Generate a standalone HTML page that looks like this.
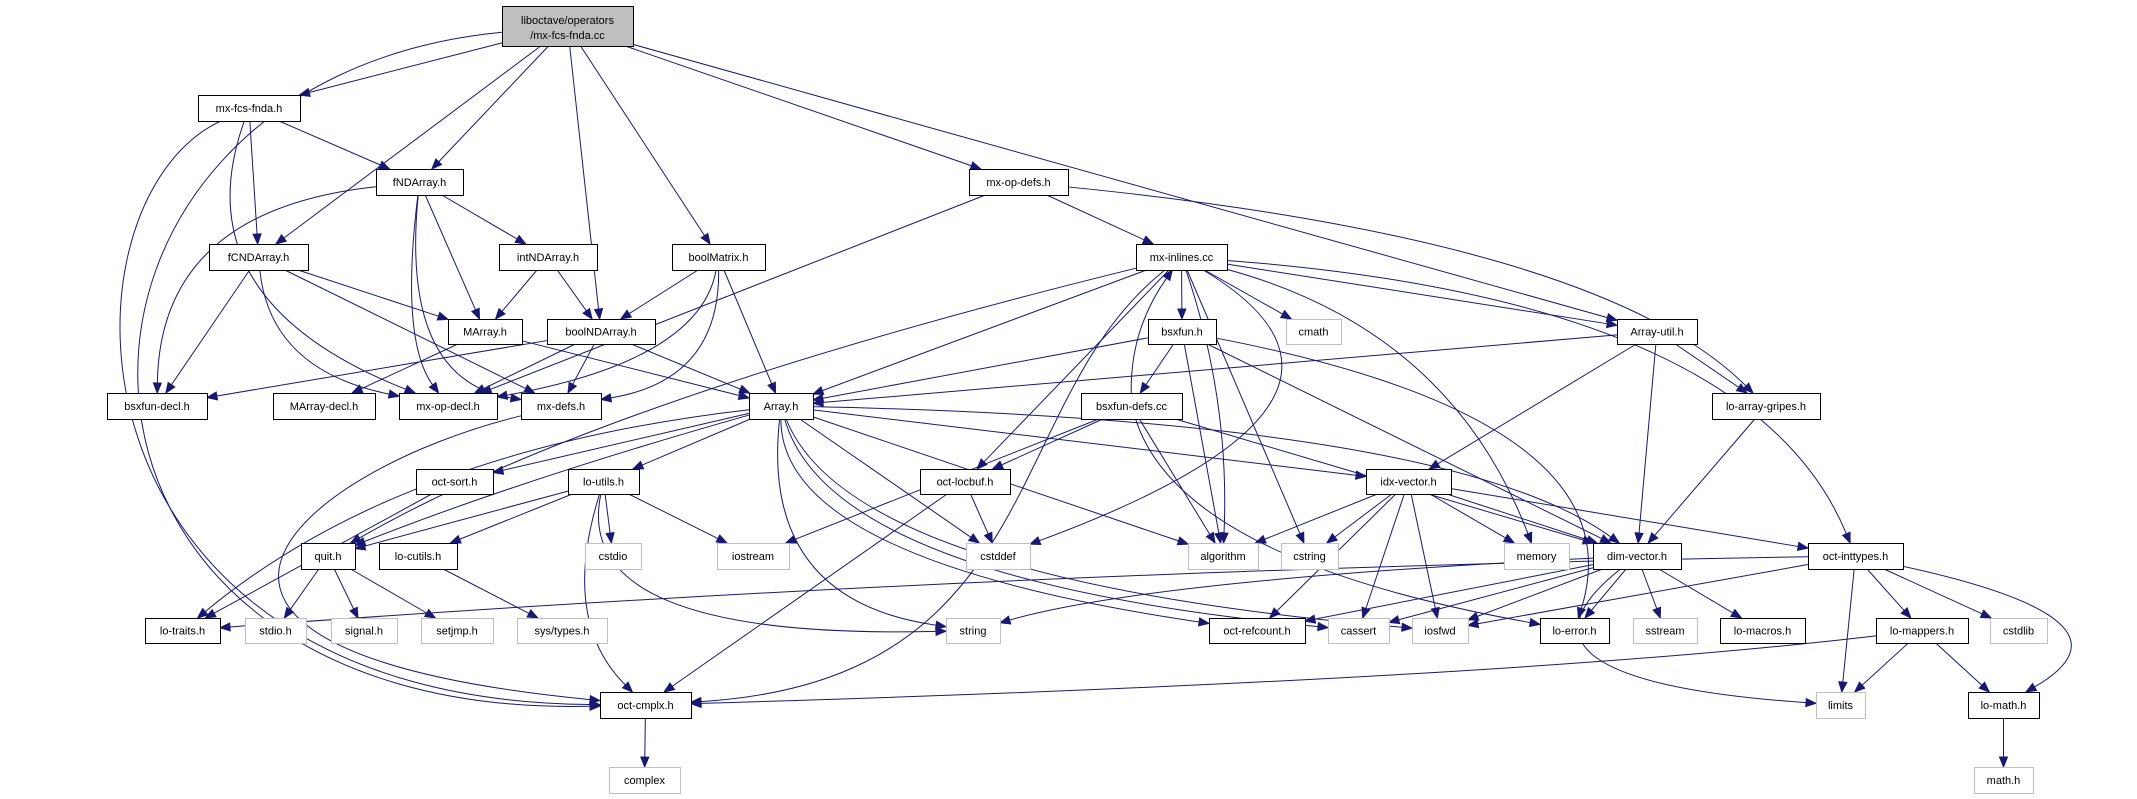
<!DOCTYPE html>
<html><head><meta charset="utf-8">
<style>
html,body{margin:0;padding:0;background:#fff;}
svg{display:block;}
text{font-family:"Liberation Sans",sans-serif;font-size:11px;fill:#000;}
</style></head>
<body>
<svg id="g" width="2137" height="799" xmlns="http://www.w3.org/2000/svg"></svg>
<script>
const N={
top:[502,6,633,46,"liboctave/operators|/mx-fcs-fnda.cc",2],
mfh:[198,95,300,121,"mx-fcs-fnda.h"],
fnd:[376,169,463,195,"fNDArray.h"],
mod:[969,169,1068,195,"mx-op-defs.h"],
fcn:[209,244,308,270,"fCNDArray.h"],
ind:[499,244,597,270,"intNDArray.h"],
bm:[672,244,765,270,"boolMatrix.h"],
mil:[1136,244,1227,270,"mx-inlines.cc"],
ma:[448,319,522,344,"MArray.h"],
bnd:[547,319,655,344,"boolNDArray.h"],
bsx:[1148,319,1216,344,"bsxfun.h"],
cmath:[1286,319,1341,344,"cmath",1],
au:[1617,319,1697,344,"Array-util.h"],
bdecl:[107,393,207,419,"bsxfun-decl.h"],
madecl:[273,393,375,419,"MArray-decl.h"],
mopdecl:[399,393,497,419,"mx-op-decl.h"],
mdefs:[521,393,601,419,"mx-defs.h"],
arr:[749,393,813,419,"Array.h"],
bdefs:[1081,393,1182,419,"bsxfun-defs.cc"],
lag:[1712,393,1820,419,"lo-array-gripes.h"],
osort:[416,469,493,494,"oct-sort.h"],
lut:[568,469,639,494,"lo-utils.h"],
olb:[920,469,1010,494,"oct-locbuf.h"],
idx:[1366,469,1451,494,"idx-vector.h"],
quit:[301,543,355,569,"quit.h"],
lcu:[379,543,457,569,"lo-cutils.h"],
cstdio:[585,543,641,569,"cstdio",1],
iost:[717,543,789,569,"iostream",1],
cstddef:[966,543,1030,569,"cstddef",1],
algo:[1188,543,1258,569,"algorithm",1],
cstring:[1281,543,1338,569,"cstring",1],
memory:[1504,543,1569,569,"memory",1],
dim:[1593,543,1681,569,"dim-vector.h"],
oit:[1808,543,1903,569,"oct-inttypes.h"],
ltr:[145,618,220,643,"lo-traits.h"],
stdio:[245,618,306,643,"stdio.h",1],
signal:[331,618,397,643,"signal.h",1],
setjmp:[421,618,493,643,"setjmp.h",1],
systypes:[517,618,607,643,"sys/types.h",1],
string:[946,618,1000,643,"string",1],
orc:[1209,618,1305,643,"oct-refcount.h"],
cassert:[1328,618,1389,643,"cassert",1],
iosfwd:[1412,618,1468,643,"iosfwd",1],
lerr:[1540,618,1609,643,"lo-error.h"],
sstream:[1633,618,1697,643,"sstream",1],
lmac:[1720,618,1805,643,"lo-macros.h"],
lmap:[1876,618,1968,643,"lo-mappers.h"],
cstdlib:[1990,618,2047,643,"cstdlib",1],
occ:[600,692,691,718,"oct-cmplx.h"],
limits:[1816,692,1865,718,"limits",1],
lmath:[1968,692,2039,718,"lo-math.h"],
complex:[609,767,680,793,"complex",1],
mathh:[1974,767,2033,793,"math.h",1]
};
const E=[
["top","mfh"],["top","fnd"],["top","fcn"],["top","bnd"],["top","bm"],["top","mod"],["top","au"],
["top","occ",[5,80],[0,720]],
["mfh","fnd"],["mfh","fcn"],["mfh","mopdecl",[180,300]],["mfh","occ",[50,200],[50,700]],
["fnd","ind"],["fnd","ma"],["fnd","mopdecl",[400,340]],["fnd","mdefs",[400,380]],["fnd","bdecl",[160,210]],
["fcn","ma"],["fcn","mopdecl",[270,370]],["fcn","mdefs"],["fcn","bdecl"],
["ind","ma"],["ind","bnd"],
["bm","bnd"],["bm","arr"],["bm","mopdecl",[700,360]],["bm","mdefs",[720,380]],
["ma","arr"],["ma","madecl"],
["bnd","mopdecl"],["bnd","mdefs"],["bnd","bdecl"],["bnd","arr"],
["mod","mil"],["mod","mopdecl"],["mod","lag",[1600,240]],
["mil","bsx"],["mil","cmath"],["mil","au"],["mil","oit",[1750,300]],["mil","arr"],["mil","quit",[600,400]],
["mil","olb"],["mil","cstddef",[1420,400]],["mil","cstring"],["mil","memory",[1450,330]],["mil","algo",[1230,400]],
["mil","occ",[1000,400],[1050,680]],
["bsx","bdefs"],["bsx","arr"],["bsx","dim"],["bsx","lerr",[1640,420]],["bsx","algo"],
["bdefs","mil",[1130,330]],["bdefs","olb"],["bdefs","dim"],["bdefs","algo"],["bdefs","iost"],["bdefs","lerr",[1180,560]],
["au","arr"],["au","dim"],["au","idx"],["au","lag"],
["lag","dim"],
["arr","osort"],["arr","lut"],["arr","quit",[520,480]],["arr","idx"],["arr","dim",[1450,420]],["arr","ltr",[400,450]],
["arr","orc",[780,560]],["arr","cassert",[830,580]],["arr","cstddef"],["arr","algo"],["arr","string",[760,600]],["arr","iosfwd",[850,580]],
["mdefs","occ",[300,470],[80,650]],
["osort","ltr"],
["lut","quit"],["lut","lcu"],["lut","cstdio"],["lut","iost"],["lut","string",[570,640]],["lut","occ",[560,620]],
["quit","stdio"],["quit","signal"],["quit","setjmp"],
["lcu","systypes"],
["olb","cstddef"],["olb","occ"],
["occ","complex"],
["idx","algo"],["idx","cstring"],["idx","memory"],["idx","dim"],["idx","oit"],["idx","orc"],["idx","cassert"],["idx","iosfwd"],
["dim","orc"],["dim","cassert"],["dim","iosfwd"],["dim","lerr"],["dim","sstream"],["dim","lmac"],["dim","limits",[1480,680]],["dim","string",[1150,580]],
["oit","ltr",[1000,570]],["oit","iosfwd"],["oit","limits"],["oit","lmap"],["oit","cstdlib"],["oit","lmath",[2150,620]],
["lmap","occ",[1500,680]],["lmap","limits"],["lmap","lmath"],
["lmath","mathh"]
];
const C="#191970";
let s="";
function ctr(n){const b=N[n];return[(b[0]+b[2])/2,(b[1]+b[3])/2];}
function clip(n,p,q){
 const b=N[n];let [cx,cy]=p;let dx=q[0]-cx,dy=q[1]-cy;
 let hw=(b[2]-b[0])/2,hh=(b[3]-b[1])/2;
 let t=Math.min(dx?hw/Math.abs(dx):1e9,dy?hh/Math.abs(dy):1e9);
 return[cx+dx*t,cy+dy*t];}
for(const e of E){
 const a=ctr(e[0]),b=ctr(e[1]);
 let c1=e[2],c2=e[3];
 let s0=clip(e[0],a,c1||b);
 let last=c2||c1||a;
 let e0=clip(e[1],b,last);
 let dx=e0[0]-last[0],dy=e0[1]-last[1],L=Math.hypot(dx,dy)||1;dx/=L;dy/=L;
 let bx=e0[0]-dx*10,by=e0[1]-dy*10;
 let d;
 if(c2)d=`M${s0[0]},${s0[1]} C${c1[0]},${c1[1]} ${c2[0]},${c2[1]} ${bx},${by}`;
 else if(c1)d=`M${s0[0]},${s0[1]} Q${c1[0]},${c1[1]} ${bx},${by}`;
 else d=`M${s0[0]},${s0[1]} L${bx},${by}`;
 s+=`<path d="${d}" fill="none" stroke="${C}" stroke-width="1"/>`;
 s+=`<polygon points="${e0[0]},${e0[1]} ${bx-dy*4},${by+dx*4} ${bx+dy*4},${by-dx*4}" fill="${C}" stroke="${C}"/>`;
}
for(const k in N){
 const b=N[k];const gray=b[5]===1,top=b[5]===2;
 s+=`<rect x="${b[0]+.5}" y="${b[1]+.5}" width="${b[2]-b[0]}" height="${b[3]-b[1]}" fill="${top?'#bfbfbf':'#fff'}" stroke="${gray?'#bfbfbf':'#000'}" stroke-width="1"/>`;
 const lines=b[4].split("|");const cx=(b[0]+b[2])/2;
 if(lines.length==1)s+=`<text x="${cx}" y="${(b[1]+b[3])/2+4}" text-anchor="middle">${lines[0]}</text>`;
 else{s+=`<text x="${cx}" y="${b[1]+18}" text-anchor="middle">${lines[0]}</text><text x="${cx}" y="${b[1]+33}" text-anchor="middle">${lines[1]}</text>`;}
}
document.getElementById("g").innerHTML=s;
</script>
</body></html>
